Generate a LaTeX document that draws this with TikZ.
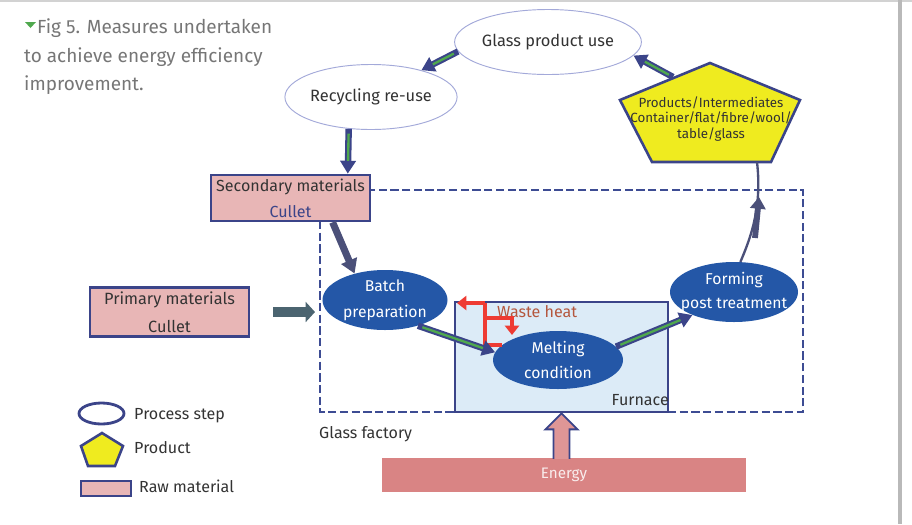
\documentclass[tikz,border=0pt]{standalone}
\usepackage{fontspec}
\setmainfont{Fira Sans}
\usetikzlibrary{shapes.geometric,arrows.meta,calc}
\definecolor{navy}{HTML}{3B4489}
\definecolor{dashblue}{HTML}{3D4C93}
\definecolor{procblue}{HTML}{2457A7}
\definecolor{rawpink}{HTML}{E8B6B6}
\definecolor{energypink}{HTML}{D98484}
\definecolor{furnblue}{HTML}{DCEBF7}
\definecolor{prodyellow}{HTML}{EFEB1F}
\definecolor{flowgreen}{HTML}{4FA84E}
\definecolor{slate}{HTML}{4B5079}
\definecolor{pushgrey}{HTML}{4B6470}
\definecolor{darktext}{HTML}{333333}
\definecolor{titlegrey}{HTML}{767676}
\definecolor{heatred}{HTML}{EE3B33}
\definecolor{heattext}{HTML}{B4573E}
\definecolor{lavender}{HTML}{A3A9D9}

\begin{document}
\begin{tikzpicture}[x=0.03cm,y=-0.03cm,
  proc/.style={ellipse,draw=lavender,line width=0.8pt,fill=white,text=darktext,
    inner sep=0pt,minimum width=4.3cm,minimum height=1.95cm,font=\fontsize{14}{16}\selectfont},
  stage/.style={ellipse,fill=procblue,text=white,align=center,
    inner xsep=-12pt,inner ysep=-3pt,font=\fontsize{13.4}{22}\selectfont},
  rawbox/.style={draw=navy,line width=2pt,fill=rawpink,text=darktext,align=center,
    minimum width=4.77cm,font=\fontsize{13.7}{22}\selectfont},
  flow/.style={draw=navy,line width=5.5pt,-{Triangle[length=11pt,width=13pt]},
    postaction={draw=flowgreen,line width=2pt,-,shorten >=11pt,shorten <=4pt}},
  txt/.style={text=darktext,font=\fontsize{13.7}{16}\selectfont},
  heat/.style={draw=heatred,line width=2.6pt,-{Triangle[length=8pt,width=12pt]}},
  factory/.style={draw=dashblue,line width=2.4pt,dash pattern=on 7pt off 3pt},
]
\useasboundingbox (0,0) rectangle (912,524);
% edges of the scanned page
\draw[gray!35,line width=1.2pt] (0,1) -- (912,1);
\draw[gray!55,line width=3pt] (900,0) -- (900,524);

% title
\fill[flowgreen] (25,22) -- (36,22) -- (30.5,28) -- cycle;
\node[anchor=base west,inner sep=0,text=titlegrey,font=\fontsize{16.2}{18}\selectfont] (title1) at (37,33) {Fig 5. Measures undertaken};
\node[anchor=base west,inner sep=0,text=titlegrey,font=\fontsize{16.2}{18}\selectfont] (title2) at (24,62) {to achieve energy efficiency};
\node[anchor=base west,inner sep=0,text=titlegrey,font=\fontsize{16.2}{18}\selectfont] (title3) at (24,90) {improvement.};

% glass factory
\draw[factory] (320,221) -- (320,412) -- (803,412) -- (803,190) -- (370,190);
\node[txt,anchor=base west,inner sep=0] (factorylbl) at (319,438) {Glass factory};

% outside loop
\node[proc] (use) at (548,42) {Glass product use};
\node[proc] (recyc) at (371,97) {Recycling re-use};
\draw[draw=navy,line width=2.2pt,fill=prodyellow] (710,63) -- (800,100) -- (771,162) -- (652,162) -- (620,100) -- cycle;
\node[text=darktext,align=center,font=\fontsize{11.4}{13}\selectfont] (prod) at (711,119) {Products/Intermediates\\Container/flat/fibre/wool/\\table/glass};
\coordinate (prodout) at (673,77);
\coordinate (prodin) at (757,162);

% raw materials
\node[rawbox,minimum height=1.32cm] (sec) at (290.5,198) {Secondary materials\\\textcolor{navy}{Cullet}};
\node[rawbox,minimum height=1.44cm,font=\fontsize{13.9}{24}\selectfont] (prim) at (169.5,312) {Primary materials\\Cullet};
\coordinate (gate) at (315,312);

% furnace
\node[draw=navy,line width=2.4pt,fill=furnblue,minimum width=6.39cm,minimum height=3.3cm] (furn) at (561.5,357) {};
\node[txt,anchor=base east,inner sep=0] (furnlbl) at (669,405) {Furnace};

% process steps
\node[stage,minimum width=3.75cm,minimum height=1.8cm] (batch) at (385,300) {Batch\\preparation};
\node[stage,minimum width=3.9cm,minimum height=1.74cm] (melt) at (558,360) {Melting\\condition};
\node[stage,minimum width=3.84cm,minimum height=1.8cm,font=\fontsize{13.4}{20}\selectfont] (form) at (734,292) {Forming\\post treatment};

% waste heat
\node[anchor=base west,inner sep=0,text=heattext,font=\fontsize{13.7}{15}\selectfont] (wastelbl) at (497,317) {Waste heat};
\coordinate (wasteup) at (485,303);
\coordinate (wasteout) at (457,303);
\coordinate (wastemid) at (485,318);
\coordinate (wastedown) at (512,335);
\draw[heat,-] (melt.165) -| (wasteup);
\draw[heat] (wasteup) -- (wasteout);
\draw[heat] (wastemid) -| (wastedown);

% energy
\node[fill=energypink,text=white!85!energypink,minimum width=10.92cm,minimum height=1.02cm,font=\fontsize{13}{16}\selectfont] (energy) at (564,475) {Energy};
\coordinate (heatbase) at (furn.south |- energy.north);
\draw[draw=navy,line width=1.6pt,fill=energypink!85!white,line join=miter]
  ($(heatbase)+(-8,1)$) -- ($(furn.south)+(-8,16)$) -- ($(furn.south)+(-16,16)$) -- (furn.south)
  -- ($(furn.south)+(16,16)$) -- ($(furn.south)+(8,16)$) -- ($(heatbase)+(8,1)$);

% connectors
\draw[flow] (use.186) -- (recyc.28);
\draw[flow] (prodout) -- (use.351);
\draw[flow] (recyc.235) -- (sec.23);
\draw[draw=slate,line width=6pt,-{Triangle[length=12pt,width=14pt]}] (sec.330) -- (batch.139);
\draw[flow] (batch.322) -- (melt.173);
\draw[flow] (melt.13) -- (form.209);
\draw[draw=pushgrey,line width=8pt,-{Triangle[length=8pt,width=17pt]}] ([xshift=0.69cm]prim.east) -- (gate);
\coordinate (liftA) at (755,238);
\coordinate (liftB) at (759,197);
\draw[draw=slate,line width=2pt] (form.78) .. controls (752,235) and (762,205) .. (prodin);
\draw[draw=slate,line width=5pt,-{Triangle[length=10pt,width=13pt]}] (liftA) -- (liftB);

% legend
\node[ellipse,draw=navy,line width=2.4pt,fill=white,minimum width=1.35cm,minimum height=0.63cm,inner sep=0] (lgproc) at (101.5,413.5) {};
\node[txt,anchor=base west,inner sep=0] (lgproctxt) at (134,419) {Process step};
\draw[draw=navy,line width=2.2pt,fill=prodyellow] (102,433) -- (123,446) -- (115,466) -- (88,466) -- (81,446) -- cycle;
\node[txt,anchor=base west,inner sep=0] (lgprodtxt) at (134,453) {Product};
\node[draw=navy,line width=1.4pt,fill=rawpink,minimum width=1.5cm,minimum height=0.45cm,inner sep=0] (lgraw) at (106,488.5) {};
\node[txt,anchor=base west,inner sep=0] (lgrawtxt) at (139,492) {Raw material};
\end{tikzpicture}
\end{document}
